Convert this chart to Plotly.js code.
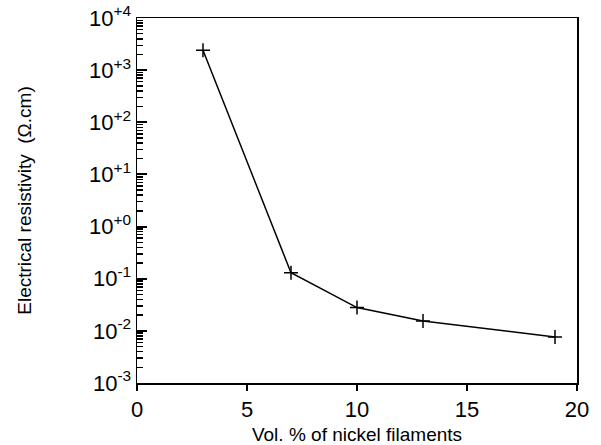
<!DOCTYPE html>
<html>
<head>
<meta charset="utf-8">
<script src="https://cdn.plot.ly/plotly-3.0.1.min.js"></script>
<style>html,body{margin:0;padding:0;background:#fff;}#chart{width:601px;height:445px;}</style>
</head>
<body>
<div id="chart"></div>
<script>
const volPercent = [3, 7, 10, 13, 19];
const resistivity = [2400, 0.13, 0.028, 0.0155, 0.0076];
const yTickVals = [1e-3, 1e-2, 1e-1, 1e0, 1e1, 1e2, 1e3, 1e4];
const yTickText = ['10<sup>-3</sup>', '10<sup>-2</sup>', '10<sup>-1</sup>', '10<sup>+0</sup>', '10<sup>+1</sup>', '10<sup>+2</sup>', '10<sup>+3</sup>', '10<sup>+4</sup>'];
const xTickVals = [0, 5, 10, 15, 20];

const minorVals = [];
for (let e = -3; e < 4; e++) for (let m = 2; m <= 9; m++) minorVals.push(m * Math.pow(10, e));

const font = {family: 'Liberation Sans, Arial, sans-serif', color: '#000'};

Plotly.newPlot('chart', [{
  x: volPercent, y: resistivity, yaxis: 'y2', type: 'scatter', mode: 'markers',
  marker: {opacity: 0, size: 1}, hoverinfo: 'skip'
}, {
  x: volPercent, y: resistivity, type: 'scatter', mode: 'lines+markers',
  line: {color: '#000', width: 1.5},
  marker: {symbol: 'cross-thin', size: 10, line: {color: '#000', width: 1.5}, color: '#000'}
}], {
  width: 601, height: 445,
  margin: {l: 137, r: 24, t: 18, b: 62},
  paper_bgcolor: '#fff', plot_bgcolor: '#fff',
  showlegend: false,
  font: Object.assign({size: 18}, font),
  xaxis: {
    range: [0, 20], tickmode: 'array', tickvals: xTickVals,
    showline: true, linecolor: '#000', linewidth: 1.5, mirror: true,
    ticks: 'outside', ticklen: 6, tickwidth: 1.5, tickcolor: '#000', showgrid: false, zeroline: false,
    tickfont: Object.assign({size: 22}, font),
    title: {text: 'Vol. % of nickel filaments', font: Object.assign({size: 19}, font), standoff: 9}
  },
  yaxis: {
    type: 'log', range: [-3, 4], tickmode: 'array', tickvals: yTickVals, ticktext: yTickText,
    showline: true, linecolor: '#000', linewidth: 1.5, mirror: true,
    ticks: 'inside', ticklen: 10, tickcolor: '#000', tickwidth: 2, showgrid: false, zeroline: false,
    tickfont: Object.assign({size: 22}, font),
    title: {text: 'Electrical resistivity  (Ω.cm)', font: Object.assign({size: 19}, font), standoff: 52}
  },
  yaxis2: {
    type: 'log', range: [-3, 4], overlaying: 'y', side: 'left', anchor: 'x',
    tickmode: 'array', tickvals: minorVals, showticklabels: false,
    ticks: 'inside', ticklen: 6, tickcolor: '#000', tickwidth: 1.5, showgrid: false, zeroline: false,
    showline: false
  }
}, {displayModeBar: false, staticPlot: true});
</script>
</body>
</html>
